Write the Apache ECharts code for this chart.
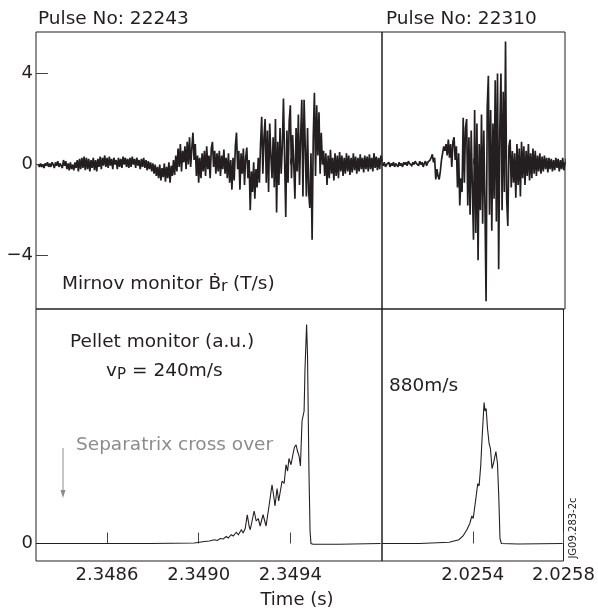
<!DOCTYPE html>
<html>
<head>
<meta charset="utf-8">
<script src="https://cdn.jsdelivr.net/npm/echarts@6/dist/echarts.min.js"></script>
<style>html,body{margin:0;padding:0;background:#fff;}#c{width:598px;height:616px;}</style>
</head>
<body>
<div id="c"></div>
<script>
// ---- Data ----
// Mirnov monitor dBr/dt (T/s), sampled every 5 microseconds
const sampleStep = 0.000005;
const mirnovLeftStart = 2.3483;   // pulse 22243
const mirnovLeft = [
 0.0,-0.1,0.05,-0.1,0.0,-0.15,0.05,-0.05,0.1,-0.1,
 0.05,-0.1,0.1,0.0,-0.15,0.1,-0.05,0.15,-0.1,0.05,
 0.1,-0.15,0.2,-0.05,0.15,-0.2,0.05,-0.25,0.1,-0.2,
 0.0,-0.25,0.1,-0.15,0.2,-0.3,0.25,-0.2,0.3,-0.15,
 0.35,-0.25,0.3,-0.2,0.25,-0.3,0.2,-0.15,0.3,-0.25,
 0.2,-0.3,0.25,-0.1,0.35,-0.2,0.3,-0.05,0.4,-0.1,
 0.3,-0.15,0.35,-0.05,0.25,-0.2,0.3,0.0,0.2,-0.2,
 0.3,-0.1,0.25,-0.15,0.35,0.0,0.3,-0.1,0.25,-0.15,
 0.3,-0.1,0.35,0.0,0.25,-0.15,0.3,-0.05,0.2,-0.2,
 0.25,-0.1,0.3,-0.15,0.2,-0.25,0.15,-0.2,0.1,-0.3,
 0.05,-0.4,0.0,-0.5,-0.1,-0.6,0.0,-0.7,-0.15,-0.55,
 0.05,-0.75,-0.1,-0.6,0.1,-0.8,-0.05,-0.5,0.2,-0.45,
 0.4,-0.3,0.7,-0.1,0.9,-0.3,0.6,0.1,0.8,-0.2,
 1.0,0.0,1.2,-0.1,0.7,1.4,0.2,0.9,-0.5,0.4,
 -0.8,0.3,-0.6,0.5,-0.3,0.6,-0.5,0.8,-0.2,0.4,
 -0.6,0.7,1.0,-0.1,0.6,-0.4,0.5,-0.3,0.6,-0.5,
 0.4,-0.2,0.66,-0.4,0.3,-0.6,0.5,-0.8,0.2,-1.1,
 0.3,-0.7,0.8,1.4,-0.2,0.6,-1.1,0.5,-0.4,0.7,
 -0.9,0.3,0.75,-0.6,0.2,-2.0,-0.3,-1.2,0.1,-1.5,
 -0.2,-1.0,0.3,-0.8,0.9,2.1,-0.4,1.2,2.0,-0.8,
 1.5,-1.2,1.8,0.4,-0.6,1.2,-1.0,2.0,-2.1,1.0,
 -0.9,1.6,-0.4,0.8,2.9,0.2,-2.3,1.5,-0.8,1.9,
 2.6,-0.6,1.3,0.0,-1.5,1.6,-0.3,2.2,-0.9,1.2,
 2.85,-1.4,2.85,0.8,-1.4,1.6,-1.2,-1.9,0.5,-3.3,
 1.2,3.15,-0.5,2.6,0.4,2.3,-0.4,1.4,0.0,0.6,
 -0.5,0.5,-0.9,0.4,-0.6,0.65,-0.4,0.3,-0.7,0.5,
 -0.5,0.4,-0.6,0.55,-0.3,0.4,-0.5,0.3,-0.4,0.5,
 -0.3,0.4,-0.45,0.3,-0.35,0.5,-0.25,0.35,-0.4,0.3,
 -0.3,0.45,-0.2,0.3,-0.35,0.4,-0.2,0.35,-0.3,0.45,
 -0.2,0.3,-0.3,0.5,-0.15,0.35,-0.25,0.3,-0.2,0.4,0.1
];
const mirnovRightStart = 2.0250;  // pulse 22310
const mirnovRight = [
 0.05,-0.05,0.1,-0.1,0.0,-0.05,0.1,-0.1,0.05,-0.05,
 0.1,-0.1,0.05,0.0,-0.1,0.1,-0.05,0.05,-0.1,0.1,
 0.0,0.1,-0.05,0.15,0.05,0.1,-0.05,0.1,0.0,0.15,
 0.05,0.1,-0.05,0.15,0.0,0.1,-0.1,0.05,0.15,-0.05,
 0.1,0.05,0.2,0.3,0.45,0.1,0.3,-0.65,-0.2,-0.5,
 -0.65,-0.3,0.2,0.5,0.8,0.6,0.9,0.4,1.1,0.3,
 0.9,-0.1,1.0,1.2,0.2,0.8,-1.0,0.5,-1.8,-0.6,
 -1.2,2.05,-0.8,1.6,2.0,-1.8,1.2,-2.2,1.5,-1.0,
 -3.3,2.4,-3.0,1.8,-4.2,0.9,-2.0,2.2,-2.6,1.5,
 -1.8,-6.0,2.5,3.9,-2.2,2.4,-2.9,1.8,-1.5,3.7,
 -2.5,4.0,-4.6,1.5,4.0,-2.0,3.2,-1.2,5.4,-1.5,
 -2.7,0.8,1.1,-1.0,0.6,-0.8,0.5,-1.45,0.9,-0.9,
 0.7,-1.4,1.0,-0.6,0.8,-0.9,0.6,-0.5,0.9,-0.7,
 0.5,-0.6,0.7,-0.4,0.6,-0.5,0.4,-0.3,0.5,-0.4,
 0.35,-0.3,0.4,-0.2,0.3,-0.35,0.3,-0.2,0.25,-0.3,
 0.2,-0.25,0.3,-0.15,0.25,-0.3,0.2,-0.2,0.3,-0.25,0.1
];

// Pellet monitor (a.u.)
const pelletLeftTime = [
 2.348290,2.348568,2.348786,2.348981,2.349003,2.349025,2.349047,2.349068,2.349081,2.349094,
 2.349107,2.349120,2.349129,2.349142,2.349151,2.349164,2.349173,2.349186,2.349194,2.349203,
 2.349212,2.349220,2.349225,2.349234,2.349242,2.349251,2.349260,2.349268,2.349281,2.349294,
 2.349307,2.349320,2.349329,2.349333,2.349342,2.349349,2.349364,2.349373,2.349381,2.349388,
 2.349394,2.349403,2.349412,2.349418,2.349425,2.349431,2.349438,2.349444,2.349451,2.349460,
 2.349464,2.349471,2.349475,2.349481,2.349486,2.349490,2.349499,2.349612,2.349794
];
const pelletLeftValue = [
 0,0,0,0.02,0.05,0.08,0.1,0.15,0.12,0.2,
 0.18,0.28,0.22,0.35,0.3,0.45,0.35,0.55,0.42,0.6,
 1.15,0.7,0.55,0.95,1.3,0.9,1.0,0.7,1.15,0.7,
 1.5,2.35,1.8,1.5,2.2,1.7,2.5,2.4,3.15,2.9,
 3.4,3.15,3.6,3.85,3.95,3.7,3.5,3.1,4.9,5.3,
 7.0,8.76,7.5,3.0,0.5,0.0,-0.03,-0.03,0.0
];
const pelletRightTime = [
 2.025000,2.025165,2.025296,2.025339,2.025357,2.025374,2.025387,2.025396,2.025402,2.025413,
 2.025422,2.025428,2.025435,2.025441,2.025450,2.025454,2.025459,2.025465,2.025472,2.025478,
 2.025485,2.025491,2.025502,2.025509,2.025515,2.025520,2.025526,2.025600,2.025796
];
const pelletRightValue = [
 0,0,0.05,0.15,0.3,0.55,0.8,1.1,1.0,1.75,
 2.4,2.3,3.1,4.2,5.64,5.3,5.4,4.6,4.0,3.8,
 3.0,3.2,3.68,3.2,1.8,0.2,0.0,-0.02,0.0
];

// Axis ticks / labels
const leftTimeTicks = [2.3486, 2.3490, 2.3494];
const rightTimeTicks = [2.0254, 2.0258];
const mirnovTicks = [-4, 0, 4];
const pelletTicks = [0];

// ---- Build ----
function sampled(start, vals) {
  return vals.map((v, i) => [Number((start + i * sampleStep).toFixed(7)), v]);
}
function paired(ts, vs) { return ts.map((t, i) => [t, vs[i]]); }

const INK = '#231f20';
const FONT = '"DejaVu Sans", sans-serif';
const GREY = '#8c8c8c';

const L = 36, M = 382, R = 565, T = 32, MID = 309, B = 561;
const grids = [
  {left: L, top: T, width: M - L, height: MID - T},
  {left: M, top: T, width: R - M, height: MID - T},
  {left: L, top: MID, width: M - L, height: B - MID},
  {left: M, top: MID, width: R - M, height: B - MID}
].map(g => Object.assign(g, {show: true, borderColor: INK, borderWidth: 1, backgroundColor: 'transparent', containLabel: false}));

function xAx(gi, min, max, ticks, tickLen, showLabels) {
  return {
    type: 'value', gridIndex: gi, min: min, max: max, scale: true,
    axisLine: {show: false},
    splitLine: {show: false},
    axisTick: {show: true, inside: true, length: tickLen, customValues: ticks, lineStyle: {color: '#444', width: 1}},
    axisLabel: {show: showLabels, customValues: ticks, margin: 5, fontSize: 18, fontFamily: FONT, color: INK,
      showMinLabel: true, showMaxLabel: true, formatter: v => Number(v).toFixed(4)}
  };
}
function yAx(gi, min, max, ticks, showTicks) {
  return {
    type: 'value', gridIndex: gi, min: min, max: max, scale: true,
    axisLine: {show: false},
    splitLine: {show: false},
    axisTick: {show: showTicks, inside: true, length: 12, customValues: ticks, lineStyle: {color: '#444', width: 1}},
    axisLabel: {show: showTicks, customValues: ticks, margin: 3, fontSize: 18, fontFamily: FONT, color: INK,
      showMinLabel: true, showMaxLabel: true, formatter: v => v < 0 ? '\u2212' + Math.abs(v) : String(v)}
  };
}

const option = {
  animation: false,
  backgroundColor: '#fff',
  grid: grids,
  xAxis: [
    xAx(0, 2.34829, 2.34980, leftTimeTicks, 6, false),
    xAx(1, 2.0250, 2.0258, rightTimeTicks, 6, false),
    xAx(2, 2.34829, 2.34980, leftTimeTicks, 11, true),
    xAx(3, 2.0250, 2.0258, rightTimeTicks, 12, true)
  ],
  yAxis: [
    yAx(0, -6.34, 5.82, mirnovTicks, true),
    yAx(1, -6.34, 5.82, mirnovTicks, false),
    yAx(2, -0.7, 9.38, pelletTicks, true),
    yAx(3, -0.7, 9.38, pelletTicks, false)
  ],
  series: [
    {type: 'line', xAxisIndex: 0, yAxisIndex: 0, data: sampled(mirnovLeftStart, mirnovLeft)},
    {type: 'line', xAxisIndex: 1, yAxisIndex: 1, data: sampled(mirnovRightStart, mirnovRight)},
    {type: 'line', xAxisIndex: 2, yAxisIndex: 2, data: paired(pelletLeftTime, pelletLeftValue)},
    {type: 'line', xAxisIndex: 3, yAxisIndex: 3, data: paired(pelletRightTime, pelletRightValue)}
  ].map((s, i) => Object.assign(s, {
    showSymbol: false, symbol: 'none', silent: true, clip: true,
    lineStyle: {color: INK, width: i < 2 ? 1.7 : 1.1, join: 'miter', miterLimit: 2}
  })),
  graphic: [
    txt('Pulse No: 22243', 38, 19, 18.5),
    txt('Pulse No: 22310', 386, 19, 18.5),
    txt('Mirnov monitor \u1E02', 62, 284, 18.5),
    txt('r', 221, 287, 16),
    txt('(T/s)', 233, 284, 18.5),
    txt('Pellet monitor (a.u.)', 70, 342, 18.5),
    txt('v', 106, 371, 18.5),
    txt('P', 117, 375, 15),
    txt('= 240m/s', 132, 371, 18.5),
    txt('Separatrix cross over', 76, 445, 18.5, GREY),
    txt('880m/s', 389, 386, 18.5),
    {type: 'text', x: 297, y: 600, silent: true,
      style: {text: 'Time (s)', font: '18px ' + FONT, fill: INK, align: 'center', verticalAlign: 'middle', textAlign: 'center', textVerticalAlign: 'middle'}},
    {type: 'text', x: 573, y: 528, rotation: Math.PI / 2, silent: true,
      style: {text: 'JG09.283-2c', font: '10px ' + FONT, fill: INK, align: 'center', verticalAlign: 'middle', textAlign: 'center', textVerticalAlign: 'middle'}},
    {type: 'line', silent: true, shape: {x1: 63, y1: 448, x2: 63, y2: 492}, style: {stroke: GREY, lineWidth: 1}},
    {type: 'polygon', silent: true, shape: {points: [[60.5, 490], [65.5, 490], [63, 498]]}, style: {fill: GREY}}
  ]
};

function txt(text, x, y, size, color) {
  return {type: 'text', x: x, y: y, silent: true,
    style: {text: text, font: size + 'px ' + FONT, fill: color || INK, align: 'left', verticalAlign: 'middle', textAlign: 'left', textVerticalAlign: 'middle'}};
}

const chart = echarts.init(document.getElementById('c'), null, {renderer: 'canvas'});
chart.setOption(option);
</script>
</body>
</html>
